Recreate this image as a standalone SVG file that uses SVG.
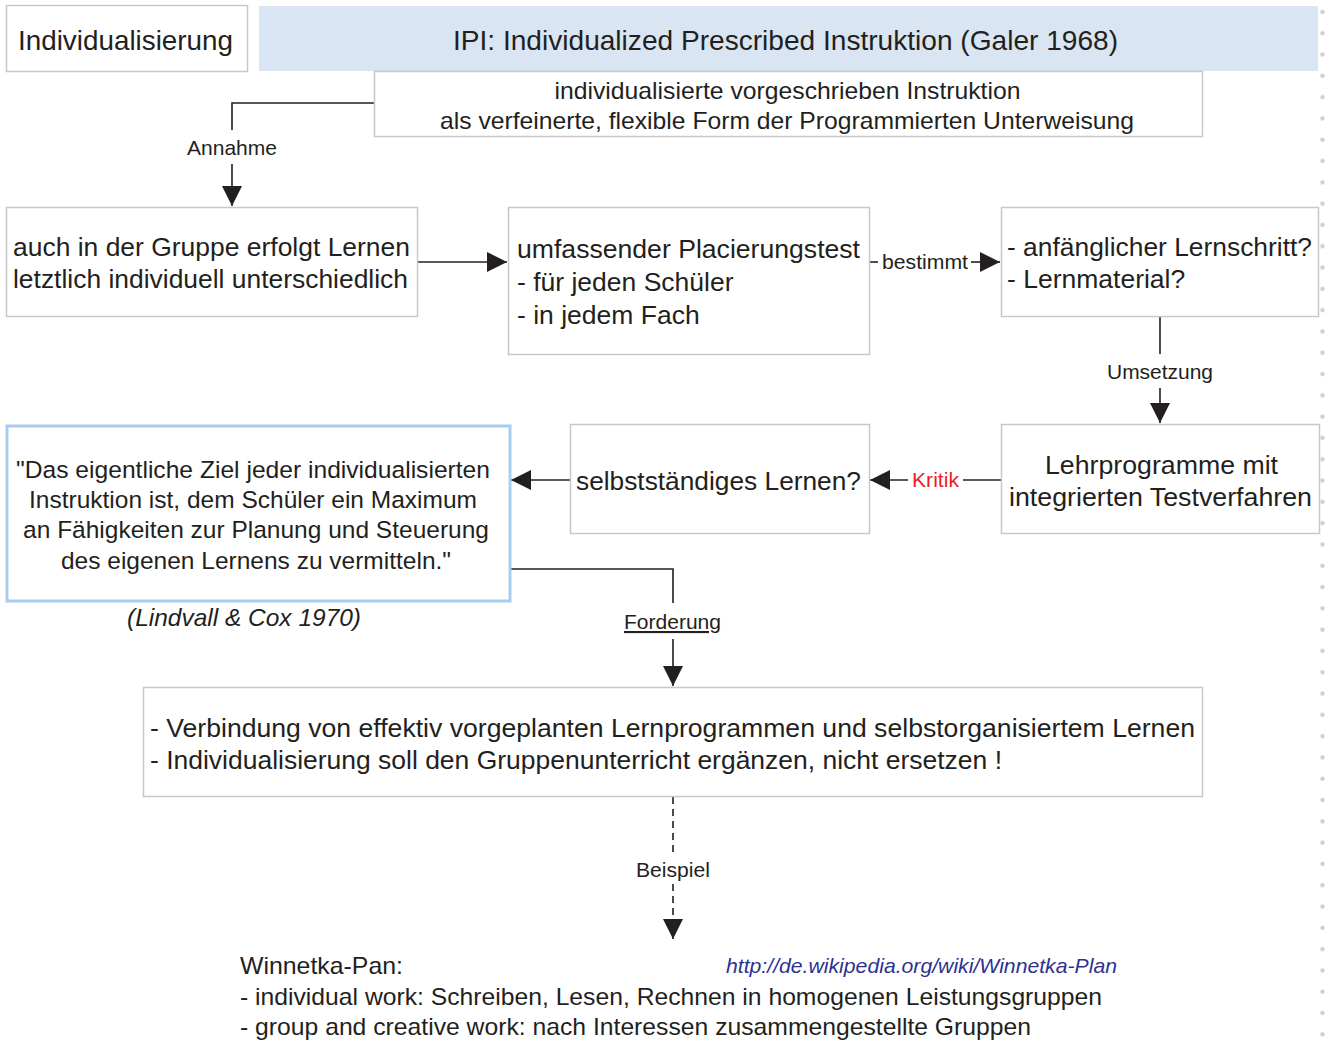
<svg xmlns="http://www.w3.org/2000/svg" width="1329" height="1041" viewBox="0 0 1329 1041">
<style>
text{font-family:"Liberation Sans",Arial,sans-serif;fill:#231f20}
.box{fill:#fff;stroke:#c8c8c8;stroke-width:1.5}
.t28{font-size:27.5px}
.t26{font-size:26.5px}
.t24{font-size:24.5px}
.t22{font-size:24px}
.lbl{font-size:21px;text-anchor:middle}
.c{text-anchor:middle}
.ln{fill:none;stroke:#231f20;stroke-width:1.6}
.dot{fill:#cfcfcf}
</style>
<defs>
<marker id="ah" viewBox="0 0 10 10" refX="10" refY="5" markerWidth="20" markerHeight="20" markerUnits="userSpaceOnUse" orient="auto">
<path d="M0,0 L10,5 L0,10 Z" fill="#231f20"/>
</marker>
<pattern id="dots" x="1320" y="1.5" width="8" height="21.3" patternUnits="userSpaceOnUse">
<circle cx="2.5" cy="10.5" r="2.2" class="dot"/>
</pattern>
</defs>
<rect width="1329" height="1041" fill="#fff"/>
<rect x="1318" y="0" width="10" height="1041" fill="url(#dots)"/>

<g id="connectors">
<path class="ln" d="M374,103 H232 V130"/>
<path class="ln" d="M232,164 V206" marker-end="url(#ah)"/>
<text class="lbl" x="232" y="155" textLength="90" lengthAdjust="spacingAndGlyphs">Annahme</text>
<path class="ln" d="M417,262 H507" marker-end="url(#ah)"/>
<path class="ln" d="M870,262 H878"/>
<path class="ln" d="M971,262 H1000" marker-end="url(#ah)"/>
<text class="lbl" x="925" y="269" textLength="86" lengthAdjust="spacingAndGlyphs">bestimmt</text>
<path class="ln" d="M1160,316 V354"/>
<path class="ln" d="M1160,388 V423" marker-end="url(#ah)"/>
<text class="lbl" x="1160" y="379" textLength="106" lengthAdjust="spacingAndGlyphs">Umsetzung</text>
<path class="ln" d="M1001,480 H963"/>
<path class="ln" d="M908,480 H870" marker-end="url(#ah)"/>
<text class="lbl" x="935.5" y="487" style="fill:#ed1c24" textLength="47" lengthAdjust="spacingAndGlyphs">Kritik</text>
<path class="ln" d="M570,480 H511" marker-end="url(#ah)"/>
<path class="ln" d="M510,569 H673 V603"/>
<path class="ln" d="M673,639 V686" marker-end="url(#ah)"/>
<text class="lbl" x="672.5" y="629" text-decoration="underline" textLength="97" lengthAdjust="spacingAndGlyphs">Forderung</text>
<path class="ln" d="M673,797 V853" stroke-dasharray="7,5"/>
<path class="ln" d="M673,884 V939" stroke-dasharray="7,5" marker-end="url(#ah)"/>
<text class="lbl" x="673" y="877" textLength="74" lengthAdjust="spacingAndGlyphs">Beispiel</text>
</g>

<g id="n-individualisierung">
<rect class="box" x="6.5" y="5.5" width="241" height="66"/>
<text class="t28 c" x="125.5" y="50" textLength="215" lengthAdjust="spacingAndGlyphs">Individualisierung</text>
</g>

<g id="n-ipi">
<rect x="259" y="6" width="1059" height="65" fill="#d9e5f2"/>
<text class="t28 c" x="785.5" y="50" textLength="665" lengthAdjust="spacingAndGlyphs">IPI: Individualized Prescribed Instruktion (Galer 1968)</text>
</g>

<g id="n-desc">
<rect class="box" x="374.5" y="71.5" width="828" height="65"/>
<text class="t22 c" x="787.5" y="99" textLength="466" lengthAdjust="spacingAndGlyphs">individualisierte vorgeschrieben Instruktion</text>
<text class="t22 c" x="787" y="129" textLength="694" lengthAdjust="spacingAndGlyphs">als verfeinerte, flexible Form der Programmierten Unterweisung</text>
</g>

<g id="n-gruppe">
<rect class="box" x="6.5" y="207.5" width="411" height="109"/>
<text class="t26" x="13" y="256" textLength="397" lengthAdjust="spacingAndGlyphs">auch in der Gruppe erfolgt Lernen</text>
<text class="t26" x="13" y="288" textLength="395" lengthAdjust="spacingAndGlyphs">letztlich individuell unterschiedlich</text>
</g>

<g id="n-test">
<rect class="box" x="508.5" y="207.5" width="361" height="147"/>
<text class="t26" x="517" y="258" textLength="343" lengthAdjust="spacingAndGlyphs">umfassender Placierungstest</text>
<text class="t26" x="517" y="291">- für jeden Schüler</text>
<text class="t26" x="517" y="324">- in jedem Fach</text>
</g>

<g id="n-schritt">
<rect class="box" x="1001.5" y="207.5" width="317" height="109"/>
<text class="t26" x="1007" y="256" textLength="305" lengthAdjust="spacingAndGlyphs">- anfänglicher Lernschritt?</text>
<text class="t26" x="1007" y="288">- Lernmaterial?</text>
</g>

<g id="n-lehrprogramme">
<rect class="box" x="1001.5" y="424.5" width="318" height="109"/>
<text class="t26 c" x="1161.5" y="474" textLength="233" lengthAdjust="spacingAndGlyphs">Lehrprogramme mit</text>
<text class="t26 c" x="1160.5" y="506" textLength="303" lengthAdjust="spacingAndGlyphs">integrierten Testverfahren</text>
</g>

<g id="n-selbst">
<rect class="box" x="570.5" y="424.5" width="299" height="109"/>
<text class="t26 c" x="718.5" y="490" textLength="285" lengthAdjust="spacingAndGlyphs">selbstständiges Lernen?</text>
</g>

<g id="n-zitat">
<rect x="7" y="426" width="503" height="175" fill="#fff" stroke="#a9cdee" stroke-width="3"/>
<text class="t24 c" x="253" y="478" textLength="474" lengthAdjust="spacingAndGlyphs">"Das eigentliche Ziel jeder individualisierten</text>
<text class="t24 c" x="253" y="508">Instruktion ist, dem Schüler ein Maximum</text>
<text class="t24 c" x="256" y="538">an Fähigkeiten zur Planung und Steuerung</text>
<text class="t24 c" x="256" y="569">des eigenen Lernens zu vermitteln."</text>
<text class="t22 c" x="244" y="626" font-style="italic" textLength="234" lengthAdjust="spacingAndGlyphs">(Lindvall &amp; Cox 1970)</text>
</g>

<g id="n-verbindung">
<rect class="box" x="143.5" y="687.5" width="1059" height="109"/>
<text class="t26" x="150" y="737" textLength="1045" lengthAdjust="spacingAndGlyphs">- Verbindung von effektiv vorgeplanten Lernprogrammen und selbstorganisiertem Lernen</text>
<text class="t26" x="150" y="769" textLength="852" lengthAdjust="spacingAndGlyphs">- Individualisierung soll den Gruppenunterricht ergänzen, nicht ersetzen !</text>
</g>

<g id="n-winnetka">
<text class="t22" x="240" y="974" textLength="163" lengthAdjust="spacingAndGlyphs">Winnetka-Pan:</text>
<text x="726" y="973" font-size="21" font-style="italic" style="fill:#2e3192" textLength="391" lengthAdjust="spacingAndGlyphs">http://de.wikipedia.org/wiki/Winnetka-Plan</text>
<text class="t22" x="240" y="1005" textLength="862" lengthAdjust="spacingAndGlyphs">- individual work: Schreiben, Lesen, Rechnen in homogenen Leistungsgruppen</text>
<text class="t22" x="240" y="1035" textLength="791" lengthAdjust="spacingAndGlyphs">- group and creative work: nach Interessen zusammengestellte Gruppen</text>
</g>
</svg>
